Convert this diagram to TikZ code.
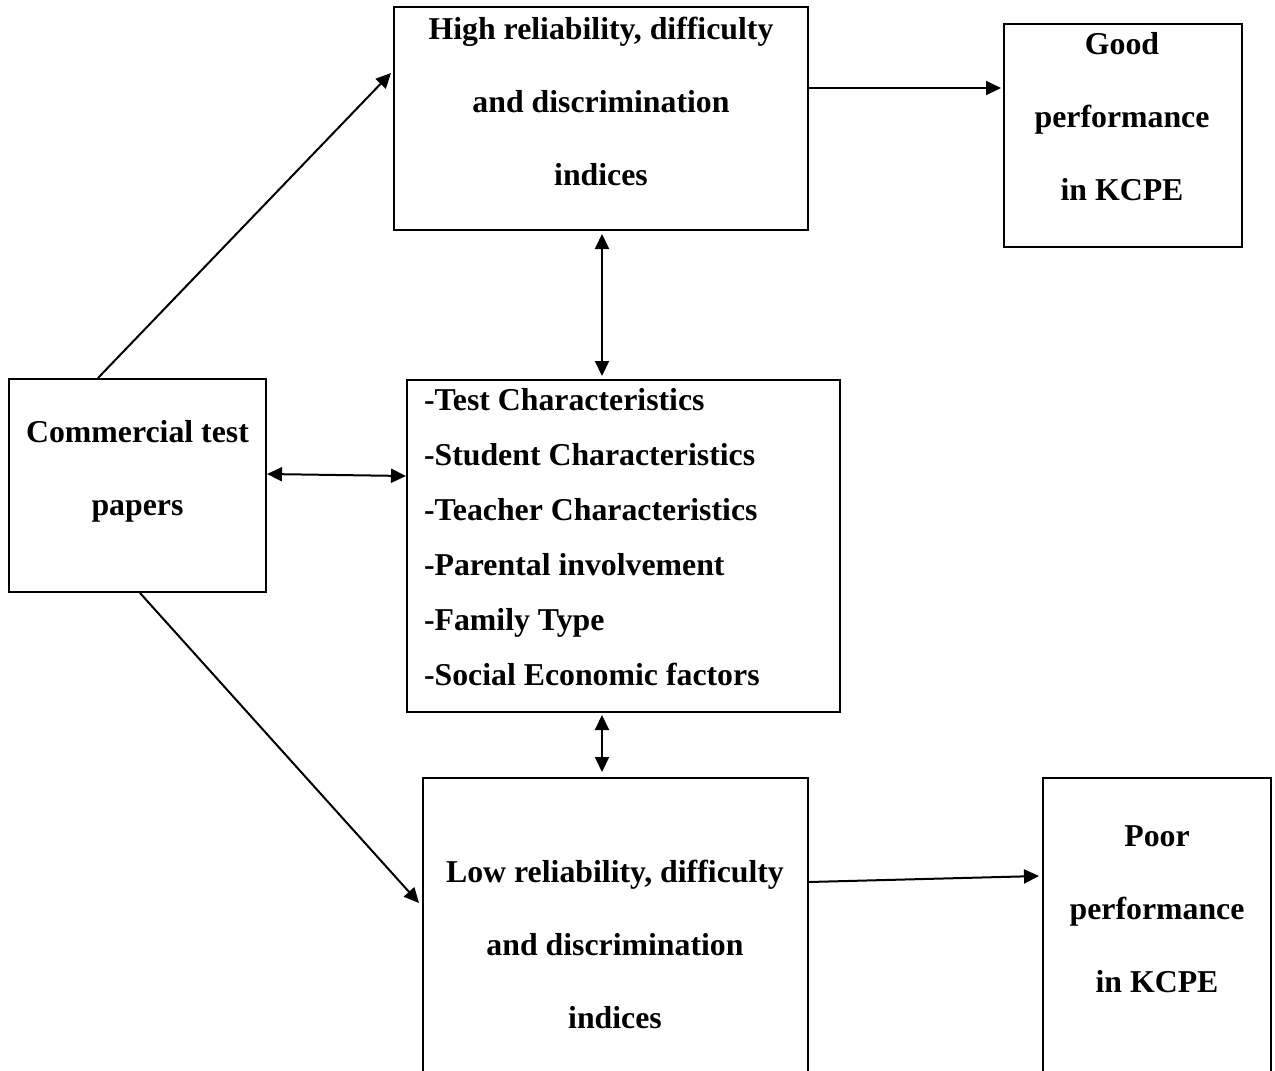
\documentclass[tikz,border=0pt]{standalone}
\usepackage{fontspec}
\setmainfont{Liberation Serif}
\usetikzlibrary{arrows.meta}
\begin{document}
\begin{tikzpicture}[x=1pt, y=-1pt, line width=2pt,
  box/.style={rectangle,draw,inner sep=0pt},
  txt/.style={inner sep=0pt,anchor=base,align=center,font=\fontsize{31.8}{73}\selectfont\bfseries},
  lst/.style={inner sep=0pt,anchor=base west,align=left,font=\fontsize{31.8}{55}\selectfont\bfseries},
  >={Triangle[length=15pt,width=14pt]}]
\useasboundingbox (0,0) rectangle (1275,1071);
\clip (0,0) rectangle (1275,1071);
% boxes
\node[box,minimum width=414pt,minimum height=223pt] (high) at (601,118.5) {};
\node[box,minimum width=238pt,minimum height=223pt] (good) at (1123,135.5) {};
\node[box,minimum width=257pt,minimum height=213pt] (comm) at (137.5,485.5) {};
\node[box,minimum width=433pt,minimum height=332pt] (mid) at (623.5,546) {};
\node[box,minimum width=385pt,minimum height=317pt] (low) at (615.5,936.5) {};
\node[box,minimum width=228pt,minimum height=317pt] (poor) at (1157,936.5) {};
% texts (anchored on the last line)
\node[txt] (hight) at (601,185) {High reliability, difficulty\\and discrimination\\indices};
\node[txt] (goodt) at (1122,200) {Good\\performance\\in KCPE};
\node[txt] (commt) at (137.5,515) {Commercial test\\papers};
\node[lst] (midt) at (423,685) {-Test Characteristics\\-Student Characteristics\\-Teacher Characteristics\\-Parental involvement\\-Family Type\\-Social Economic factors};
\node[txt] (lowt) at (615,1028) {Low reliability, difficulty\\and discrimination\\indices};
\node[txt] (poort) at (1157,992) {Poor\\performance\\in KCPE};
% connectors
\draw[->] ([xshift=-39.5pt]comm.north) -- ([xshift=-2pt,yshift=45.5pt]high.west);
\draw[->] ([yshift=30.5pt]high.east) -- ([xshift=-2pt,yshift=47.5pt]good.west);
\draw[<->] ([xshift=1pt,yshift=-3pt]high.south) -- ([xshift=-21.5pt,yshift=3pt]mid.north);
\draw[<->] ([yshift=11.5pt]comm.east) -- ([yshift=70pt]mid.west);
\draw[<->] ([xshift=-21.5pt,yshift=-2pt]mid.south) -- ([xshift=-13.5pt,yshift=5pt]low.north);
\draw[->] ([xshift=2.5pt]comm.south) -- ([xshift=-3pt,yshift=33.5pt]low.west);
\draw[->] ([yshift=54.5pt]low.east) -- ([xshift=-3pt,yshift=60.5pt]poor.west);
\end{tikzpicture}
\end{document}
